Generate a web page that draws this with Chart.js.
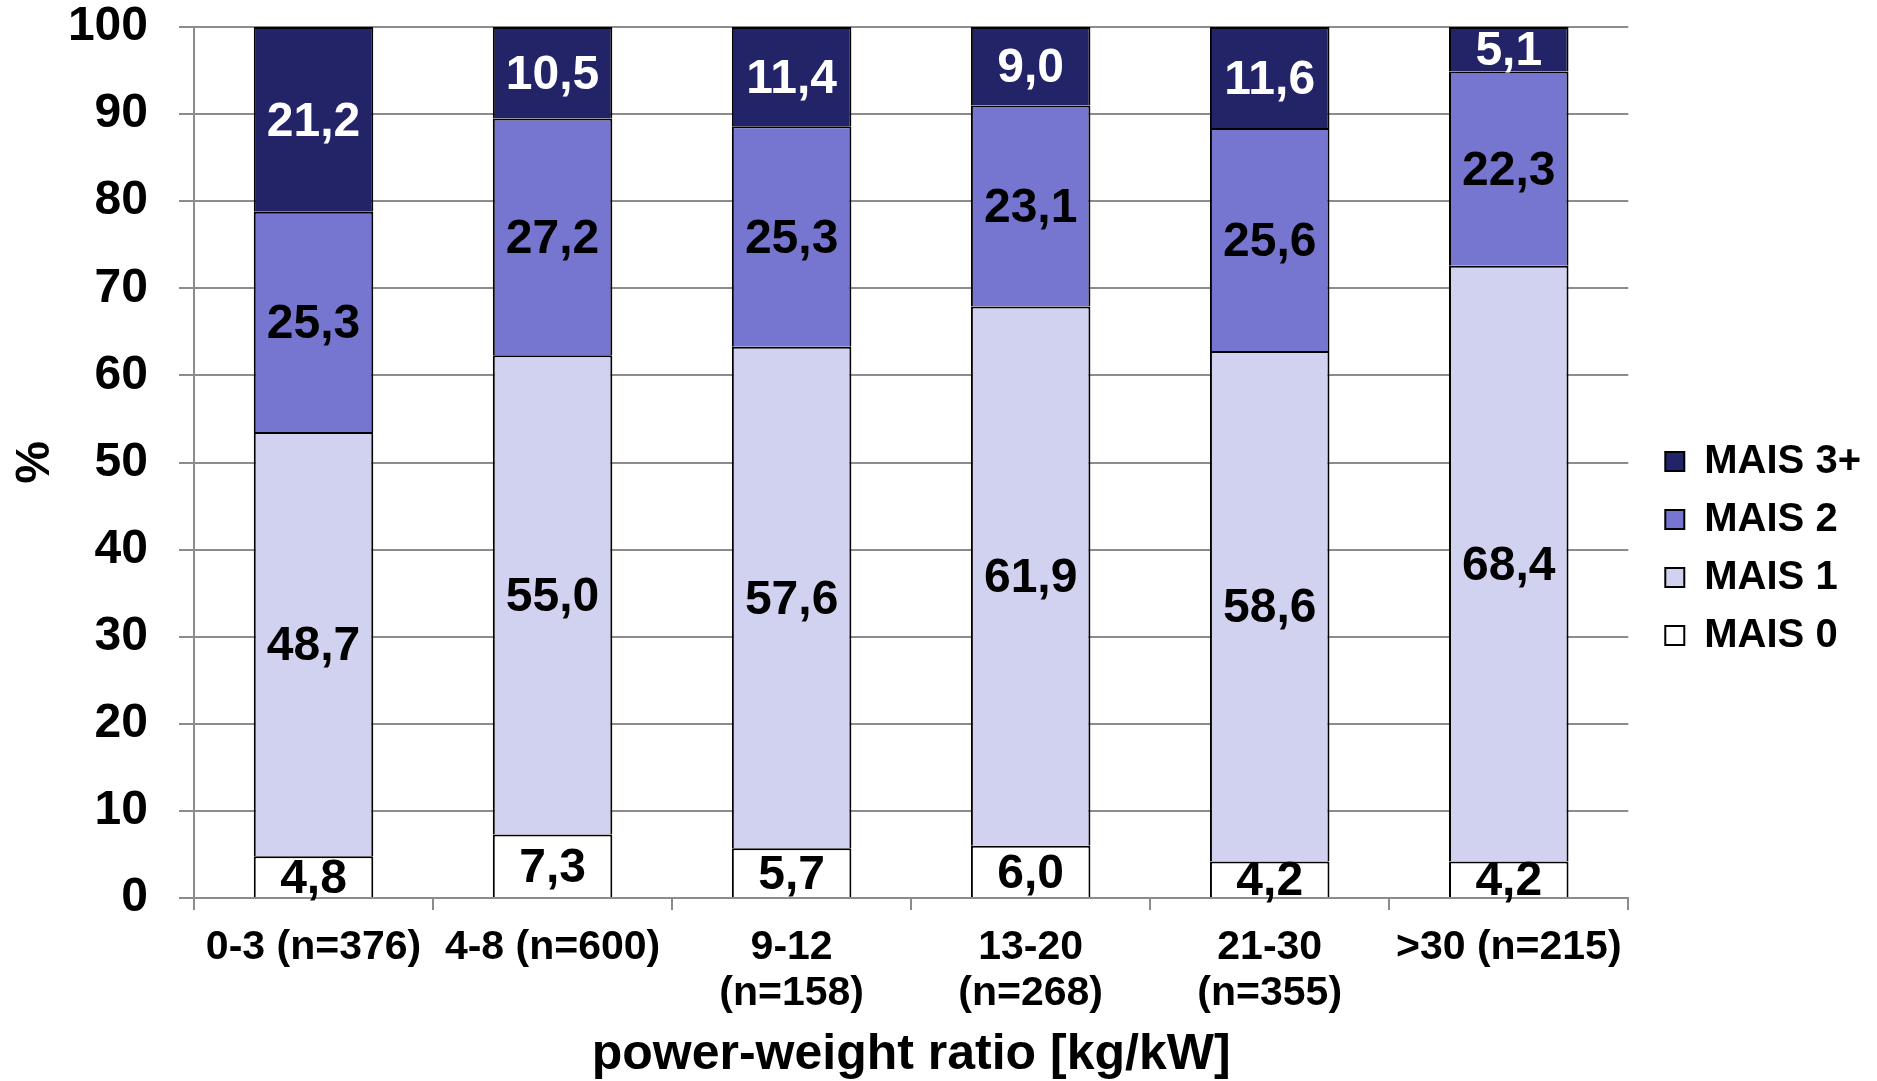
<!DOCTYPE html>
<html>
<head>
<meta charset="utf-8">
<script src="https://cdn.jsdelivr.net/npm/chart.js@4.4.0/dist/chart.umd.min.js"></script>
<style>
  html, body { margin: 0; padding: 0; background: #fff; }
  #wrap { width: 1877px; height: 1081px; }
</style>
</head>
<body>
<div id="wrap"><canvas id="chart" width="1877" height="1081"></canvas></div>
<script>
// data (bottom segment first)
const categories = ['0-3 (n=376)', '4-8 (n=600)', ['9-12', '(n=158)'], ['13-20', '(n=268)'], ['21-30', '(n=355)'], '>30 (n=215)'];
const mais0 = [4.8, 7.3, 5.7, 6.0, 4.2, 4.2];
const mais1 = [48.7, 55.0, 57.6, 61.9, 58.6, 68.4];
const mais2 = [25.3, 27.2, 25.3, 23.1, 25.6, 22.3];
const mais3 = [21.2, 10.5, 11.4, 9.0, 11.6, 5.1];
const yTicks = [0, 10, 20, 30, 40, 50, 60, 70, 80, 90, 100];

const FONT = "'Liberation Sans', Arial, sans-serif";
const GRID = '#8c8c8c';

// values written in the middle of each segment
const segmentLabels = {
    id: 'segmentLabels',
    afterDatasetsDraw(chart) {
        const ctx = chart.ctx;
        ctx.save();
        ctx.font = `bold 48px ${FONT}`;
        ctx.textAlign = 'center';
        ctx.textBaseline = 'middle';
        chart.data.datasets.forEach((ds, i) => {
            const meta = chart.getDatasetMeta(i);
            ctx.fillStyle = ds.labelColor;
            meta.data.forEach((bar, j) => {
                const p = bar.getProps(['x', 'y', 'base'], true);
                const txt = ds.data[j].toFixed(1).replace('.', ',');
                ctx.fillText(txt, p.x, (p.y + p.base) / 2 + 3);
            });
        });
        ctx.restore();
    }
};

const mkSet = (label, data, color, labelColor) => ({
    label,
    data,
    backgroundColor: color,
    borderColor: '#000',
    borderWidth: 2,
    labelColor
});

new Chart(document.getElementById('chart'), {
    type: 'bar',
    data: {
        labels: categories,
        datasets: [
            mkSet('MAIS 0', mais0, '#ffffff', '#000'),
            mkSet('MAIS 1', mais1, '#d1d1f0', '#000'),
            mkSet('MAIS 2', mais2, '#7676d0', '#000'),
            mkSet('MAIS 3+', mais3, '#232368', '#fff')
        ]
    },
    options: {
        responsive: false,
        animation: false,
        layout: { padding: { top: 16, right: 6, bottom: 0, left: 0 } },
        datasets: { bar: { categoryPercentage: 1, barPercentage: 0.5 } },
        plugins: {
            tooltip: { enabled: false },
            legend: {
                position: 'right',
                reverse: true,
                labels: {
                    boxWidth: 19,
                    boxHeight: 19,
                    padding: 18,
                    color: '#000',
                    font: { family: FONT, size: 40, weight: 'bold' }
                }
            }
        },
        scales: {
            x: {
                stacked: true,
                afterFit: s => { s.height = 183; },
                grid: { drawOnChartArea: false, drawTicks: true, tickLength: 12, color: GRID, lineWidth: 2 },
                border: { color: GRID, width: 2 },
                ticks: {
                    color: '#000',
                    padding: 15,
                    autoSkip: false,
                    maxRotation: 0,
                    font: { family: FONT, size: 41, weight: 'bold', lineHeight: 1.12 }
                },
                title: {
                    display: true,
                    text: 'power-weight ratio [kg/kW]',
                    color: '#000',
                    padding: { top: 0, bottom: 1 },
                    font: { family: FONT, size: 50, weight: 'bold', lineHeight: 1 }
                }
            },
            y: {
                stacked: true,
                min: 0,
                max: 100,
                afterFit: s => {
                    s.width = 194;
                    // keep the top of the plot at the 100 line of the original
                    s.paddingTop = 27;
                    s.paddingBottom = 0;
                },
                afterBuildTicks: s => { s.ticks = yTicks.map(v => ({ value: v })); },
                grid: { color: GRID, lineWidth: 2, tickLength: 15 },
                border: { color: GRID, width: 2 },
                ticks: {
                    color: '#000',
                    padding: 31,
                    font: { family: FONT, size: 48, weight: 'bold', lineHeight: 1 }
                },
                title: {
                    display: true,
                    text: '%',
                    color: '#000',
                    padding: { top: 7, bottom: 0 },
                    font: { family: FONT, size: 48, weight: 'bold', lineHeight: 1.2 }
                }
            },
            // empty gap between plot and legend
            gap: {
                type: 'linear',
                position: 'right',
                afterFit: s => { s.width = 19; },
                grid: { display: false },
                border: { display: false },
                ticks: { display: false }
            }
        }
    },
    plugins: [segmentLabels]
});
</script>
</body>
</html>
